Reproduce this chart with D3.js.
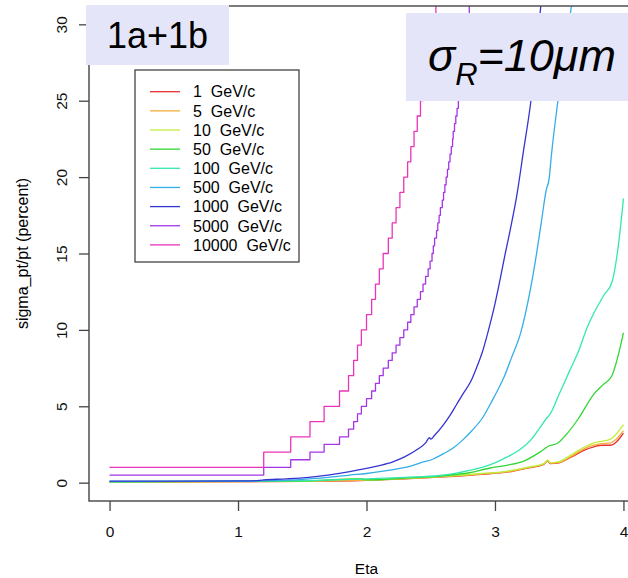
<!DOCTYPE html>
<html lang="en">
<head>
<meta charset="utf-8">
<title>sigma_pt/pt vs Eta</title>
<script src="https://cdn.jsdelivr.net/npm/d3@7"></script>
<style>
  body { margin: 0; background: #fff; }
  svg { display: block; font-family: "Liberation Sans", Arial, sans-serif; }
  .axis text { font-size: 15.5px; fill: #111; }
  .axis line { stroke: #444; stroke-width: 1.3; }
  .legend text { font-size: 16px; white-space: pre; }
</style>
</head>
<body>
<svg width="628" height="578"></svg>
<script>
// momenta and colours (close to R rainbow(9), a bit softened)
var momenta = ["1", "5", "10", "50", "100", "500", "1000", "5000", "10000"];
var colors = ["#ea3030", "#f5ad3a", "#c0ee3a", "#33d633", "#33e8b0", "#33aee8", "#3535d2", "#a535e6", "#ea35b8"];

// resolution curves: eta, sigma_pt/pt (percent)
var eta1    = [0, 1.5, 2.0, 2.3, 2.6, 2.9, 3.1, 3.25, 3.38, 3.41, 3.43, 3.5, 3.6, 3.7, 3.77, 3.83, 3.9, 4.0];
var res1    = [0.04, 0.08, 0.15, 0.25, 0.38, 0.55, 0.7, 0.95, 1.2, 1.42, 1.25, 1.3, 1.7, 2.15, 2.35, 2.45, 2.45, 3.25];
var eta5    = [0, 1.5, 2.0, 2.3, 2.6, 2.9, 3.1, 3.25, 3.38, 3.41, 3.43, 3.5, 3.6, 3.7, 3.77, 3.83, 3.9, 4.0];
var res5    = [0.04, 0.09, 0.16, 0.26, 0.39, 0.57, 0.72, 0.97, 1.22, 1.45, 1.28, 1.33, 1.75, 2.25, 2.45, 2.55, 2.6, 3.4];
var eta10   = [0, 1.5, 1.96, 2.0, 2.3, 2.6, 2.9, 3.1, 3.25, 3.38, 3.41, 3.43, 3.5, 3.6, 3.7, 3.77, 3.83, 3.9, 4.0];
var res10   = [0.05, 0.1, 0.24, 0.16, 0.28, 0.41, 0.6, 0.76, 1.0, 1.25, 1.47, 1.3, 1.38, 1.85, 2.35, 2.6, 2.7, 2.85, 3.8];
var eta50   = [0, 1.5, 1.96, 2.0, 2.3, 2.6, 2.8, 2.96, 3.1, 3.22, 3.35, 3.42, 3.49, 3.55, 3.65, 3.77, 3.84, 3.91, 4.0];
var res50   = [0.05, 0.11, 0.25, 0.18, 0.3, 0.45, 0.65, 0.96, 1.15, 1.4, 2.0, 2.4, 2.6, 3.1, 4.2, 5.8, 6.4, 7.0, 9.8];
var eta100  = [0, 1.5, 2.0, 2.3, 2.57, 2.7, 2.8, 2.96, 3.1, 3.2, 3.28, 3.35, 3.4, 3.43, 3.5, 3.58, 3.65, 3.72, 3.77, 3.85, 3.91, 3.96, 4.0];
var res100  = [0.06, 0.13, 0.25, 0.35, 0.47, 0.62, 0.8, 1.16, 1.7, 2.2, 2.8, 3.6, 4.2, 4.5, 5.8, 7.3, 8.6, 10.2, 11.1, 12.3, 13.1, 15.5, 18.6];
var eta500  = [0, 1.1, 1.48, 1.7, 1.87, 2.0, 2.13, 2.26, 2.35, 2.42, 2.52, 2.6, 2.68, 2.75, 2.82, 2.9, 2.98, 3.03, 3.07, 3.13,
               3.2, 3.27, 3.32, 3.36, 3.4, 3.42, 3.44, 3.49, 3.55, 3.6];
var res500  = [0.08, 0.1, 0.2, 0.35, 0.5, 0.6, 0.75, 0.94, 1.1, 1.3, 1.55, 1.9, 2.3, 2.8, 3.4, 4.2, 5.4, 6.2, 6.9, 8.2,
               9.8, 12.4, 14.8, 17, 19.2, 19.8, 21.5, 25, 28.5, 31.5];
var eta1000 = [0, 1.12, 1.2, 1.38, 1.55, 1.7, 1.87, 2.0, 2.1, 2.2, 2.3, 2.4, 2.46, 2.49, 2.5, 2.53, 2.6, 2.65, 2.7, 2.75,
               2.81, 2.86, 2.9, 2.95, 3.0, 3.04, 3.08, 3.12, 3.17, 3.22, 3.28, 3.32, 3.36];
var res1000 = [0.1, 0.12, 0.18, 0.25, 0.35, 0.5, 0.72, 0.93, 1.12, 1.35, 1.7, 2.2, 2.6, 2.95, 2.85, 3.1, 3.8, 4.4, 5.1, 5.8,
               6.6, 7.6, 8.5, 10.0, 11.7, 13.3, 15.0, 16.6, 18.8, 21.6, 25, 28, 31.5];
// the two highest momenta come out as staircases
var eta5000 = [0, 1.2, 1.41, 1.56, 1.67, 1.79, 1.86, 1.9, 1.93, 1.96, 2.0, 2.04, 2.07, 2.1, 2.13, 2.17, 2.2, 2.23, 2.26, 2.29,
               2.32, 2.345, 2.37, 2.395, 2.42, 2.44, 2.46, 2.48, 2.495, 2.51, 2.52, 2.53, 2.545, 2.555, 2.565, 2.575, 2.59, 2.6,
               2.61, 2.62, 2.63, 2.64, 2.65, 2.66, 2.67, 2.675, 2.685, 2.695, 2.705, 2.715, 2.72, 2.73, 2.735, 2.74, 2.75,
               2.755, 2.76, 2.77, 2.78, 2.785, 2.79, 2.8];
var res5000 = [0.5, 1, 1.5, 2, 2.5, 3, 3.5, 4, 4.5, 5, 5.5, 6, 6.5, 7, 7.5, 8, 8.5, 9, 9.5, 10,
               10.5, 11, 11.5, 12, 12.5, 13, 13.5, 14, 14.5, 15, 15.5, 16, 16.5, 17, 17.5, 18, 18.5, 19,
               19.5, 20, 20.5, 21, 21.5, 22, 22.5, 23, 23.5, 24, 24.5, 25, 25.5, 26, 26.5, 27, 27.5,
               28, 28.5, 29, 29.5, 30, 30.5, 31.5];
var eta10000 = [0, 1.2, 1.41, 1.56, 1.67, 1.79, 1.86, 1.9, 1.93, 1.96, 2.0, 2.04, 2.07, 2.1, 2.13, 2.17, 2.2, 2.23, 2.26, 2.29,
                2.32, 2.345, 2.37, 2.395, 2.42, 2.44, 2.46, 2.48, 2.5, 2.52, 2.54];
var res10000 = [1, 2, 3, 4, 5, 6, 7, 8, 9, 10, 11, 12, 13, 14, 15, 16, 17, 18, 19, 20,
                21, 22, 23, 24, 25, 26, 27, 28, 29, 30, 31.5];

var etas = [eta1, eta5, eta10, eta50, eta100, eta500, eta1000, eta5000, eta10000];
var ress = [res1, res5, res10, res50, res100, res500, res1000, res5000, res10000];

var xTicks = [0, 1, 2, 3, 4];
var yTicks = [0, 5, 10, 15, 20, 25, 30];

var svg = d3.select("svg");
var pLeft = 89, pRight = 644, pTop = 6, pBottom = 501;

var x = d3.scaleLinear().domain([-0.16, 4.16]).range([pLeft, pRight]);
var y = d3.scaleLinear().domain([-1.2, 31.2]).range([pBottom, pTop]);

svg.append("clipPath").attr("id", "plotclip")
  .append("rect").attr("x", pLeft).attr("y", pTop).attr("width", pRight - pLeft).attr("height", pBottom - pTop);

// curves
var series = momenta.map(function(m, i) {
  return { color: colors[i], step: i >= 7,
           pts: etas[i].map(function(e, j) { return [e, ress[i][j]]; }) };
});

var g = svg.append("g").attr("clip-path", "url(#plotclip)");
series.forEach(function(s) {
  var line = d3.line()
    .x(function(d) { return x(d[0]); })
    .y(function(d) { return y(d[1]); })
    .curve(s.step ? d3.curveStepAfter : d3.curveMonotoneX);
  g.append("path").datum(s.pts)
    .attr("d", line)
    .attr("fill", "none")
    .attr("stroke", s.color)
    .attr("stroke-width", 1.3)
    .attr("stroke-linejoin", "round");
});

// box
svg.append("rect")
  .attr("x", pLeft).attr("y", pTop).attr("width", pRight - pLeft).attr("height", pBottom - pTop)
  .attr("fill", "none").attr("stroke", "#444").attr("stroke-width", 1.4);

// axes
var yAxis = svg.append("g").attr("class", "axis")
  .attr("transform", "translate(" + pLeft + ",0)")
  .call(d3.axisLeft(y).tickValues(yTicks).tickSize(10).tickSizeOuter(0).tickFormat(d3.format("d")));
yAxis.select(".domain").remove();
yAxis.selectAll("text")
  .attr("x", 0).attr("y", -22.5).attr("dy", null)
  .attr("text-anchor", "middle")
  .attr("transform", "rotate(-90)");

var xAxis = svg.append("g").attr("class", "axis")
  .attr("transform", "translate(0," + pBottom + ")")
  .call(d3.axisBottom(x).tickValues(xTicks).tickSize(10).tickSizeOuter(0).tickFormat(d3.format("d")));
xAxis.select(".domain").remove();
xAxis.selectAll("text").attr("y", 35.5).attr("dy", null);

svg.append("text")
  .attr("x", (pLeft + pRight) / 2).attr("y", 574)
  .attr("text-anchor", "middle").attr("font-size", 15.5)
  .text("Eta");

svg.append("text")
  .attr("transform", "translate(28," + ((pTop + pBottom) / 2) + ") rotate(-90)")
  .attr("text-anchor", "middle").attr("font-size", 16)
  .text("sigma_pt/pt (percent)");

// legend
var lg = svg.append("g").attr("class", "legend");
lg.append("rect")
  .attr("x", 135).attr("y", 70).attr("width", 164).attr("height", 192)
  .attr("fill", "#fff").attr("stroke", "#444").attr("stroke-width", 1.3);
momenta.forEach(function(m, i) {
  var yy = 91.7 + i * 19.15;
  lg.append("line").attr("x1", 150).attr("x2", 180).attr("y1", yy).attr("y2", yy)
    .attr("stroke", colors[i]).attr("stroke-width", 1.3);
  lg.append("text").attr("x", 193).attr("y", yy).attr("dy", "0.36em")
    .text(m + "  GeV/c");
});

// overlay labels
svg.append("rect").attr("x", 86).attr("y", 5).attr("width", 143).attr("height", 60).attr("fill", "#e5e5f9");
svg.append("text").attr("x", 107).attr("y", 48).attr("font-size", 36).text("1a+1b");

svg.append("rect").attr("x", 406).attr("y", 13).attr("width", 230).attr("height", 88).attr("fill", "#e5e5f9");
var sig = svg.append("text").attr("x", 428).attr("y", 71).attr("font-size", 45).attr("font-style", "italic");
sig.append("tspan").text("σ");
sig.append("tspan").attr("font-size", 31).attr("dy", 14).text("R");
sig.append("tspan").attr("dy", -14).text("=10μm");
</script>
</body>
</html>
